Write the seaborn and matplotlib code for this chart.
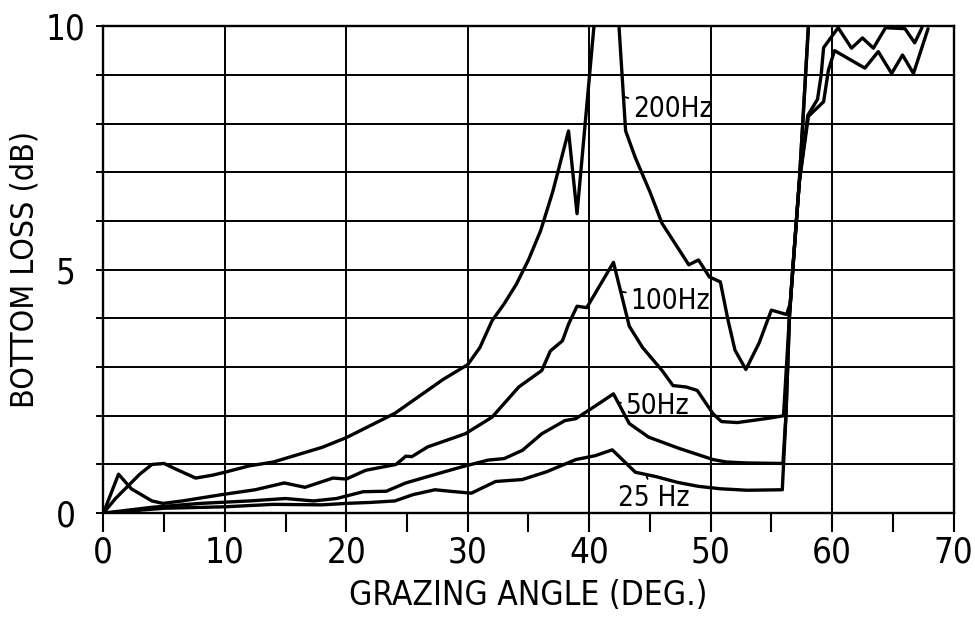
import matplotlib
matplotlib.use("Agg")
import matplotlib.pyplot as plt
from matplotlib.ticker import FixedLocator, FuncFormatter
import pandas as pd
import seaborn as sns

# Bottom loss versus grazing angle for four frequencies
angle_25 = [0, 5, 10, 14, 18, 20, 22, 24, 25.5, 27.3, 28.5, 30.3, 32.3, 34.5, 36.5,
            38.9, 40.5, 41.9, 43.8, 45.5, 47.3, 49.0, 50.8, 53.0, 55.9, 56.2, 56.5,
            56.85, 57.3, 58.05]
loss_25 = [0, 0.1, 0.13, 0.18, 0.17, 0.2, 0.22, 0.25, 0.38, 0.48, 0.45, 0.41, 0.65,
           0.69, 0.85, 1.1, 1.18, 1.3, 0.84, 0.75, 0.63, 0.55, 0.5, 0.47, 0.48, 2.0,
           4.1, 5.3, 6.8, 10.0]

angle_50 = [0, 4, 8, 12, 15, 17.3, 19.2, 21.4, 23.3, 24.9, 26.7, 29.5, 31.7, 33.0,
            34.5, 36.1, 38.0, 38.9, 40.5, 42.0, 43.3, 44.9, 47.4, 50.2, 51.3, 53.0,
            55.95, 56.2, 56.5, 56.85, 57.3, 58.0, 58.8, 59.1, 59.3, 60.0, 60.5, 61.6,
            62.5, 63.4, 64.4, 66.0, 66.8, 67.4]
loss_50 = [0, 0.12, 0.2, 0.25, 0.3, 0.25, 0.3, 0.44, 0.45, 0.62, 0.75, 0.95, 1.09,
           1.12, 1.29, 1.63, 1.9, 1.94, 2.2, 2.45, 1.84, 1.56, 1.33, 1.1, 1.05, 1.03,
           1.02, 2.0, 4.1, 5.3, 6.8, 8.17, 8.5, 9.0, 9.56, 9.8, 9.97, 9.55, 9.76,
           9.55, 9.97, 9.95, 9.66, 9.97]

angle_100 = [0, 1.25, 2.3, 4.0, 4.9, 6.5, 9.75, 12.5, 14.9, 16.6, 18.9, 20.0, 21.6,
             24.1, 24.9, 25.4, 26.7, 29.8, 32.0, 34.2, 36.1, 36.8, 37.8, 38.3, 39.0,
             39.8, 42.0, 43.3, 44.4, 46.0, 46.9, 48.0, 48.9, 50.2, 50.9, 52.2, 54.8,
             56.0, 56.5, 56.85, 57.3, 58.05, 59.3, 59.7, 60.2, 62.7, 63.8, 64.9, 65.8,
             66.7, 67.9]
loss_100 = [0, 0.8, 0.5, 0.25, 0.2, 0.25, 0.38, 0.48, 0.62, 0.53, 0.72, 0.7, 0.88,
            1.0, 1.17, 1.16, 1.36, 1.63, 1.97, 2.59, 2.93, 3.33, 3.54, 3.88, 4.25,
            4.22, 5.15, 3.84, 3.4, 2.93, 2.62, 2.59, 2.52, 2.04, 1.88, 1.86, 1.95,
            2.0, 4.1, 5.3, 6.8, 8.15, 8.45, 9.1, 9.5, 9.14, 9.48, 9.03, 9.41, 9.03,
            9.95]

angle_200 = [0, 1, 2, 3, 4, 5, 6, 7.6, 9, 10, 12, 14, 16, 18, 20, 22, 24, 26, 28, 30,
             31, 32, 33, 34, 35, 36, 37, 38.3, 39.0, 40.9, 42.1, 43.0, 43.8, 45.0,
             46.0, 47.3, 48.2, 49.0, 49.9, 50.8, 51.4, 52.0, 52.9, 54.0, 55.0, 56.25,
             56.55, 56.85, 57.3, 58.05]
loss_200 = [0, 0.3, 0.55, 0.8, 1.0, 1.02, 0.9, 0.72, 0.78, 0.84, 0.97, 1.05, 1.2,
            1.35, 1.55, 1.8, 2.05, 2.4, 2.75, 3.05, 3.4, 3.95, 4.3, 4.7, 5.2, 5.8,
            6.6, 7.85, 6.15, 11.4, 11.4, 7.85, 7.3, 6.6, 5.95, 5.45, 5.1, 5.2, 4.85,
            4.75, 4.0, 3.35, 2.95, 3.5, 4.17, 4.08, 4.3, 5.3, 6.8, 10.0]

freq_labels = ["25 Hz", "50Hz", "100Hz", "200Hz"]
label_pos = [(42.4, 0.32), (43.0, 2.2), (43.4, 4.36), (43.6, 8.3)]
leader_end = [(44.7, 0.78), (42.4, 2.27), (42.65, 4.55), (42.85, 8.55)]

x_ticks_major = [0, 10, 20, 30, 40, 50, 60, 70]
x_ticks_minor = [5, 15, 25, 35, 45, 55, 65]
y_ticks = list(range(11))
y_labelled = [0, 5, 10]

frames = []
for name, xs, ys in [("25 Hz", angle_25, loss_25), ("50Hz", angle_50, loss_50),
                     ("100Hz", angle_100, loss_100), ("200Hz", angle_200, loss_200)]:
    frames.append(pd.DataFrame({"angle": xs, "loss": ys, "freq": name}))
df = pd.concat(frames, ignore_index=True)

sns.set_theme(style="white")
plt.rcParams["font.family"] = ["DejaVu Sans"]
plt.rcParams["font.stretch"] = "condensed"

fig = plt.figure(figsize=(9.75, 6.25), dpi=100)
ax = fig.add_axes([0.106, 0.179, 0.872, 0.779])

sns.lineplot(data=df, x="angle", y="loss", hue="freq", units="freq",
             estimator=None, sort=False, palette=["black"] * 4,
             legend=False, linewidth=2.4, ax=ax)

ax.set_xlim(0, 70)
ax.set_ylim(0, 10)

ax.xaxis.set_major_locator(FixedLocator(x_ticks_major))
ax.xaxis.set_minor_locator(FixedLocator(x_ticks_minor))
ax.yaxis.set_major_locator(FixedLocator(y_ticks))
ax.yaxis.set_major_formatter(FuncFormatter(
    lambda v, p: f"{int(v)}" if int(round(v)) in y_labelled else ""))

ax.grid(True, which="major", color="black", linewidth=1.4)
for s in ax.spines.values():
    s.set_color("black")
    s.set_linewidth(1.7)

ax.tick_params(axis="x", which="both", direction="out", length=14, width=1.5,
               color="black", pad=2, labelsize=25, labelcolor="black")
ax.tick_params(axis="y", which="major", direction="out", length=5, width=1.4,
               color="black", pad=22, labelsize=25, labelcolor="black")
ax.tick_params(left=True, bottom=True)
ax.tick_params(axis="x", which="minor", bottom=True)
for lab in ax.get_yticklabels():
    lab.set_horizontalalignment("center")

ax.set_xlabel("GRAZING ANGLE (DEG.)", fontsize=24, color="black", labelpad=7)
ax.set_ylabel("BOTTOM LOSS (dB)", fontsize=23, color="black", labelpad=4)

for text, pos, end in zip(freq_labels, label_pos, leader_end):
    ax.annotate(text, xy=end, xytext=pos, ha="left", va="center", fontsize=20,
                color="black",
                arrowprops=dict(arrowstyle="-", color="black", lw=1.3,
                                shrinkA=1, shrinkB=0))

fig.savefig("out.png", dpi=100, facecolor="white")
